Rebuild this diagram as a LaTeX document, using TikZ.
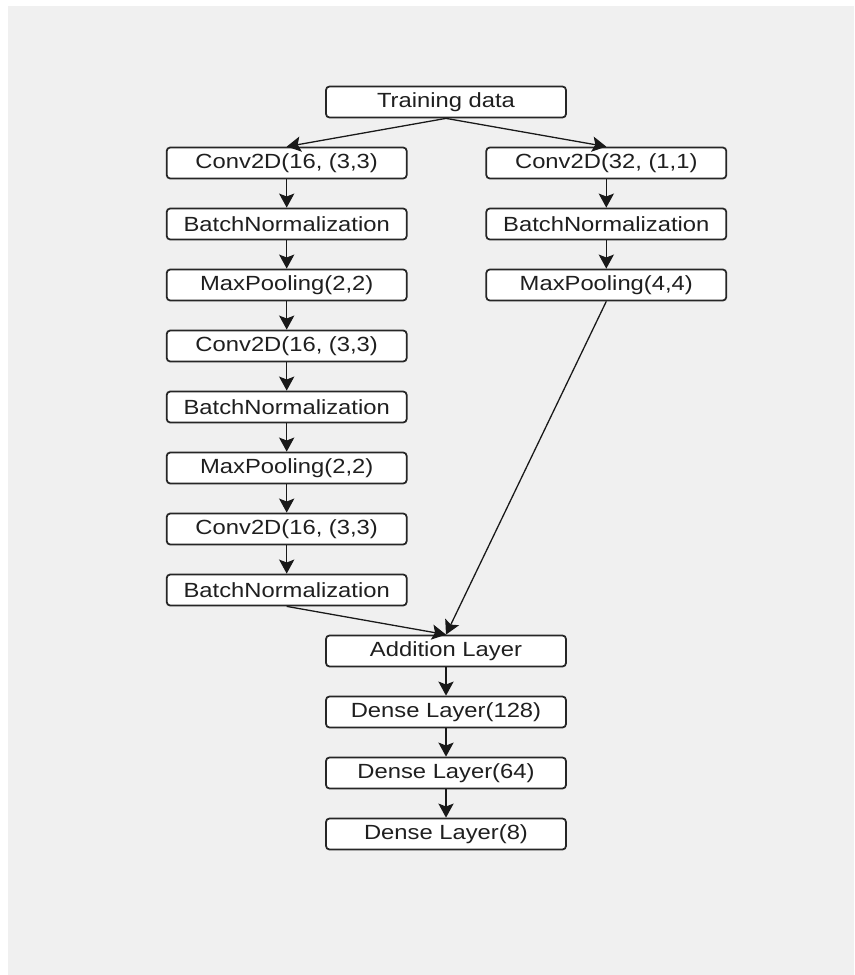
\documentclass[tikz,border=0pt]{standalone}
\usepackage{fontspec}
\setmainfont{Liberation Sans}[FakeStretch=1.16]
\usetikzlibrary{arrows.meta}

\begin{document}
\begin{tikzpicture}[x=0.03cm, y=-0.03cm,
    layer/.style={draw=black!85, line width=1.5pt, rounded corners=3pt, fill=white,
        minimum width=7.2cm, minimum height=0.93cm, inner sep=0pt,
        text=black!88, font=\fontsize{17.5}{20}\selectfont},
    flow/.style={black!90, line width=1.1pt, -{Stealth[length=12pt, width=13pt, inset=2.5pt]}}]

    \useasboundingbox (0, 0) rectangle (854, 975);
    \fill[black!6] (8, 6) rectangle (854, 975);

    \node[layer] (train) at (446, 102) {Training data};

    % left branch
    \node[layer] (lconv1) at (286.7, 163) {Conv2D(16, (3,3)};
    \node[layer] (lbn1)   at (286.7, 224) {BatchNormalization};
    \node[layer] (lpool1) at (286.7, 285) {MaxPooling(2,2)};
    \node[layer] (lconv2) at (286.7, 346) {Conv2D(16, (3,3)};
    \node[layer] (lbn2)   at (286.7, 407) {BatchNormalization};
    \node[layer] (lpool2) at (286.7, 468) {MaxPooling(2,2)};
    \node[layer] (lconv3) at (286.7, 529) {Conv2D(16, (3,3)};
    \node[layer] (lbn3)   at (286.7, 590) {BatchNormalization};

    % right branch
    \node[layer] (rconv) at (606.3, 163) {Conv2D(32, (1,1)};
    \node[layer] (rbn)   at (606.3, 224) {BatchNormalization};
    \node[layer] (rpool) at (606.3, 285) {MaxPooling(4,4)};

    % merged
    \node[layer] (add)    at (446, 651) {Addition Layer};
    \node[layer] (dense1) at (446, 712) {Dense Layer(128)};
    \node[layer] (dense2) at (446, 773) {Dense Layer(64)};
    \node[layer] (dense3) at (446, 834) {Dense Layer(8)};

    \draw[flow] (train.south) -- (lconv1.north);
    \draw[flow] (train.south) -- (rconv.north);

    \draw[flow] (lconv1) -- (lbn1);
    \draw[flow] (lbn1) -- (lpool1);
    \draw[flow] (lpool1) -- (lconv2);
    \draw[flow] (lconv2) -- (lbn2);
    \draw[flow] (lbn2) -- (lpool2);
    \draw[flow] (lpool2) -- (lconv3);
    \draw[flow] (lconv3) -- (lbn3);

    \draw[flow] (rconv) -- (rbn);
    \draw[flow] (rbn) -- (rpool);

    \draw[flow] (lbn3.south) -- (add.north);
    \draw[flow] (rpool.south) -- (add.north);

    \draw[flow] (add) -- (dense1);
    \draw[flow] (dense1) -- (dense2);
    \draw[flow] (dense2) -- (dense3);

\end{tikzpicture}
\end{document}
